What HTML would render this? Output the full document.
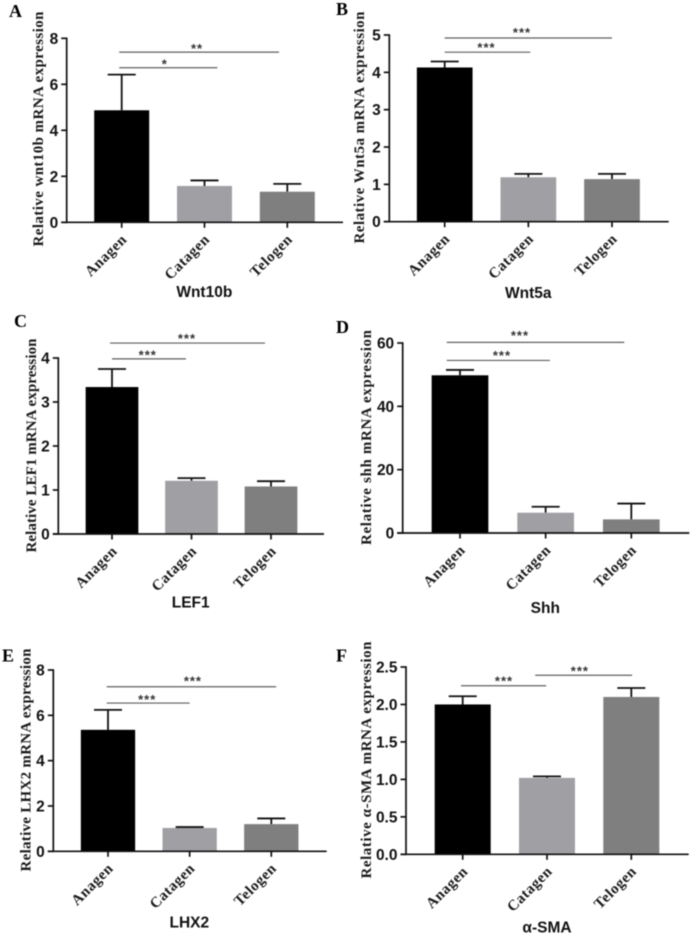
<!DOCTYPE html>
<html lang="en">
<head>
<meta charset="utf-8">
<title>Relative mRNA expression across hair cycle phases</title>
<style>
html,body{margin:0;padding:0;background:#fff;width:693px;height:942px;overflow:hidden}
svg{display:block;filter:blur(.5px)}
.tick{font:bold 15.5px "Liberation Sans",sans-serif;fill:#111}
.ytitle{font:bold 15px "Liberation Serif",serif;fill:#1a1a1a}
.cat{font:bold 15px "Liberation Serif",serif;fill:#1a1a1a;letter-spacing:.5px}
.xtitle{font:bold 15.5px "Liberation Sans",sans-serif;fill:#111}
.letter{font:bold 18px "Liberation Serif",serif;fill:#000}
.star{font:bold 13px "Liberation Sans",sans-serif;fill:#333;letter-spacing:1px}
</style>
</head>
<body>
<svg id="figure" xmlns="http://www.w3.org/2000/svg" width="693" height="942" viewBox="0 0 693 942"></svg>
<script>
// ---- data ----
const categories = ["Anagen", "Catagen", "Telogen"];

const wnt10bMeans = [4.87, 1.58, 1.33];
const wnt10bUpper = [6.42, 1.82, 1.67];
const wnt10bTicks = ["0", "2", "4", "6", "8"];

const wnt5aMeans = [4.13, 1.19, 1.14];
const wnt5aUpper = [4.29, 1.28, 1.28];
const wnt5aTicks = ["0", "1", "2", "3", "4", "5"];

const lef1Means = [3.34, 1.21, 1.08];
const lef1Upper = [3.75, 1.27, 1.20];
const lef1Ticks = ["0", "1", "2", "3", "4"];

const shhMeans = [49.8, 6.4, 4.3];
const shhUpper = [51.5, 8.3, 9.3];
const shhTicks = ["0", "20", "40", "60"];

const lhx2Means = [5.36, 1.03, 1.20];
const lhx2Upper = [6.24, 1.07, 1.45];
const lhx2Ticks = ["0", "2", "4", "6", "8"];

const smaMeans = [2.00, 1.02, 2.10];
const smaUpper = [2.11, 1.04, 2.22];
const smaTicks = ["0.0", "0.5", "1.0", "1.5", "2.0", "2.5"];

// significance: [from category pos, to category pos, line axis value, star category pos, star axis value, label]
const wnt10bSig = [[-0.03, 1.90, 7.40, 0.91, 7.63, "**"], [-0.03, 1.155, 6.72, 0.52, 6.94, "*"]];
const wnt5aSig = [[0, 2.0, 4.92, 0.924, 5.11, "***"], [0, 1.023, 4.54, 0.50, 4.71, "***"]];
const lef1Sig = [[-0.025, 1.925, 4.34, 0.943, 4.48, "***"], [0, 0.93, 3.98, 0.45, 4.10, "***"]];
const shhSig = [[-0.155, 1.918, 60.2, 0.70, 62.8, "***"], [-0.155, 1.05, 54.5, 0.49, 56.6, "***"]];
const lhx2Sig = [[-0.016, 2.06, 7.26, 1.04, 7.57, "***"], [-0.016, 1.0, 6.54, 0.48, 6.76, "***"]];
const smaSig = [[-0.02, 0.99, 2.25, 0.49, 2.335, "***"], [0.86, 2.01, 2.39, 1.39, 2.465, "***"]];

const barColors = ["#000000", "#a09fa3", "#7f7f7f"];

// ---- panel layout ----
const panels = [
  {id:"a", letter:"A", lx:9, ly:17, means:wnt10bMeans, upper:wnt10bUpper, ticks:wnt10bTicks, sig:wnt10bSig, title:"Wnt10b",
   yTitle:"Relative wnt10b mRNA expression", ax:66.7, y0:222.3, yTop:38.3, xEnd:343, c0:121.7, step:82.8, bw:55, yT:[38,129,235], xT:[204.3,297]},
  {id:"b", letter:"B", lx:336, ly:15, means:wnt5aMeans, upper:wnt5aUpper, ticks:wnt5aTicks, sig:wnt5aSig, title:"Wnt5a",
   yTitle:"Relative Wnt5a mRNA expression", ax:389.3, y0:221.7, yTop:35, xEnd:668.7, c0:444.7, step:83.65, bw:55.7, yT:[359,127.5,232], xT:[528.3,298]},
  {id:"c", letter:"C", lx:14, ly:327, means:lef1Means, upper:lef1Upper, ticks:lef1Ticks, sig:lef1Sig, title:"LEF1",
   yTitle:"Relative LEF1 mRNA expression", ax:58.3, y0:534, yTop:358, xEnd:324, c0:112, step:79.5, bw:52.7, yT:[31,445.5,214], xT:[190.7,607.7]},
  {id:"d", letter:"D", lx:336, ly:333, means:shhMeans, upper:shhUpper, ticks:shhTicks, sig:shhSig, title:"Shh",
   yTitle:"Relative shh mRNA expression", ax:402.7, y0:533, yTop:343, xEnd:689.3, c0:460, step:85.65, bw:56.7, yT:[366,437.5,215], xT:[545.3,613]},
  {id:"e", letter:"E", lx:2, ly:661.7, means:lhx2Means, upper:lhx2Upper, ticks:lhx2Ticks, sig:lhx2Sig, title:"LHX2",
   yTitle:"Relative LHX2 mRNA expression", ax:53.3, y0:851.3, yTop:670, xEnd:326.7, c0:108, step:81.65, bw:54.3, yT:[25.7,760,223], xT:[189.3,927.3]},
  {id:"f", letter:"F", lx:336, ly:661.7, means:smaMeans, upper:smaUpper, ticks:smaTicks, sig:smaSig, title:"\u03b1-SMA",
   yTitle:"Relative \u03b1-SMA mRNA expression", ax:406, y0:854.3, yTop:667, xEnd:688.7, c0:462.7, step:84.3, bw:56, yT:[366,760,237], xT:[547,932.7]}
];

const NS = "http://www.w3.org/2000/svg";
const figure = document.getElementById("figure");

function make(parent, tag, attrs, text) {
  const node = document.createElementNS(NS, tag);
  for (const k in attrs) node.setAttribute(k, attrs[k]);
  if (text !== undefined) node.textContent = text;
  parent.appendChild(node);
  return node;
}

panels.forEach(function (p) {
  const g = make(figure, "g", {});
  
  

  const maxVal = parseFloat(p.ticks[p.ticks.length - 1]);
  const yScale = function (v) { return p.y0 - (v / maxVal) * (p.y0 - p.yTop); };
  const xScale = function (i) { return p.c0 + i * p.step; };

  const letter = make(g, "text", {x: p.lx, y: p.ly, "class": "letter"}, p.letter);
  
  

  // bars and error bars
  categories.forEach(function (cat, i) {
    const cx = xScale(i);
    const top = yScale(p.upper[i]);
    const barTop = yScale(p.means[i]);

    const stem = make(g, "line", {x1: cx, x2: cx, y1: top, y2: barTop, stroke: "#111", "stroke-width": 1.8});
    
    

    const cap = make(g, "line", {x1: cx - 14, x2: cx + 14, y1: top, y2: top, stroke: "#111", "stroke-width": 1.8});
    
    

    const bar = make(g, "rect", {x: cx - p.bw / 2, y: barTop, width: p.bw, height: p.y0 - barTop, fill: barColors[i]});
    
    

    const tick = make(g, "line", {x1: cx, x2: cx, y1: p.y0, y2: p.y0 + 5.5, stroke: "#111", "stroke-width": 1.7});
    
    

    const lx = cx + 6;
    const ly = p.y0 + 18;
    const label = make(g, "text", {x: lx, y: ly, "class": "cat", "text-anchor": "end", transform: "rotate(-45 " + lx + " " + ly + ")"}, cat);
    
    
  });

  // axes
  const yAxis = make(g, "line", {x1: p.ax, x2: p.ax, y1: p.yTop - 0.8, y2: p.y0 + 0.8, stroke: "#111", "stroke-width": 1.7});
  
  

  const xAxis = make(g, "line", {x1: p.ax - 5.5, x2: p.xEnd, y1: p.y0, y2: p.y0, stroke: "#111", "stroke-width": 1.7});
  
  

  p.ticks.forEach(function (t) {
    const v = parseFloat(t);
    const ty = yScale(v);
    const tick = make(g, "line", {x1: p.ax - 5.5, x2: p.ax, y1: ty, y2: ty, stroke: "#111", "stroke-width": 1.7});
    
    

    const label = make(g, "text", {x: p.ax - 8.5, y: ty + 5.5, "class": "tick", "text-anchor": "end"}, t);
    
    
  });

  // significance lines
  p.sig.forEach(function (s) {
    const sy = yScale(s[2]);
    const line = make(g, "line", {x1: xScale(s[0]), x2: xScale(s[1]), y1: sy, y2: sy, stroke: "#5f5f5f", "stroke-width": 1.2});
    
    

    const star = make(g, "text", {x: xScale(s[3]), y: yScale(s[4]) + 6, "class": "star", "text-anchor": "middle"}, s[5]);
    
    
  });

  // titles
  const yt = make(g, "text", {x: p.yT[0], y: p.yT[1], "class": "ytitle", "text-anchor": "middle", textLength: p.yT[2], lengthAdjust: "spacing",
    transform: "rotate(-90 " + p.yT[0] + " " + p.yT[1] + ") translate(0 5)"}, p.yTitle);
  
  

  const xt = make(g, "text", {x: p.xT[0], y: p.xT[1], "class": "xtitle", "text-anchor": "middle"}, p.title);
  
  
});
</script>
</body>
</html>
